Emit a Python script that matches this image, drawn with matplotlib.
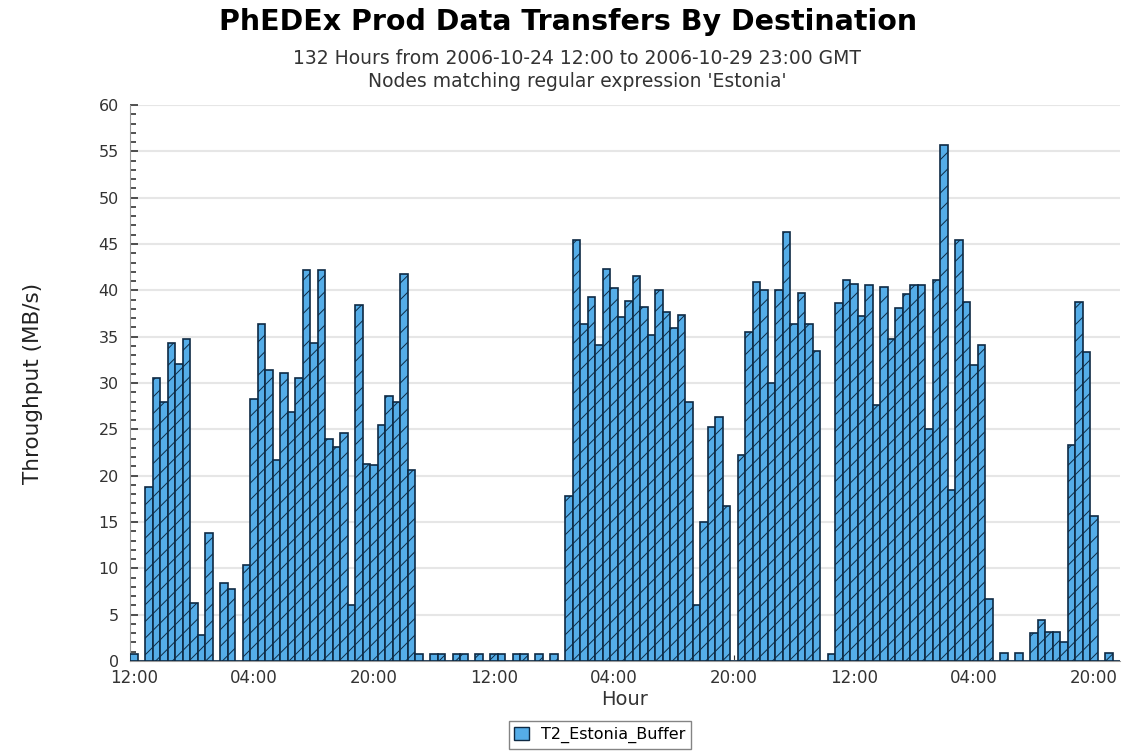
import numpy as np
import matplotlib.pyplot as plt
from matplotlib.patches import Patch

# hourly throughput (MB/s), hour 0 = 2006-10-24 12:00 GMT, 132 hours
throughput = [
    0.8, 0.0, 18.8, 30.5, 28.0, 34.3, 32.1, 34.8, 6.3, 2.8,
    13.8, 0.0, 8.4, 7.8, 0.0, 10.4, 28.3, 36.4, 31.4, 21.7,
    31.1, 26.9, 30.5, 42.2, 34.3, 42.2, 24.0, 23.1, 24.6, 6.0,
    38.4, 21.3, 21.1, 25.5, 28.6, 28.0, 41.8, 20.6, 0.8, 0.0,
    0.8, 0.8, 0.0, 0.8, 0.8, 0.0, 0.8, 0.0, 0.8, 0.8,
    0.0, 0.8, 0.8, 0.0, 0.8, 0.0, 0.8, 0.0, 17.8, 45.4,
    36.4, 39.3, 34.1, 42.3, 40.2, 37.1, 38.8, 41.5, 38.2, 35.2,
    40.0, 37.7, 35.9, 37.3, 28.0, 6.0, 15.0, 25.3, 26.3, 16.7,
    0.0, 22.2, 35.5, 40.9, 40.0, 30.0, 40.0, 46.3, 36.4, 39.7,
    36.4, 33.5, 0.0, 0.8, 38.6, 41.1, 40.7, 37.2, 40.6, 27.6,
    40.4, 34.8, 38.1, 39.6, 40.6, 40.6, 25.0, 41.1, 55.7, 18.5,
    45.4, 38.7, 31.9, 34.1, 6.7, 0.0, 0.9, 0.0, 0.9, 0.0,
    3.0, 4.4, 3.1, 3.1, 2.0, 23.3, 38.7, 33.3, 15.7, 0.0,
    0.9, 0.0,
]
hours = np.arange(len(throughput))

tick_hours = [0, 16, 32, 48, 64, 80, 96, 112, 128]
tick_labels = ['12:00', '04:00', '20:00', '12:00', '04:00', '20:00',
               '12:00', '04:00', '20:00']

node = 'T2_Estonia_Buffer'
title = 'PhEDEx Prod Data Transfers By Destination'
subtitle = ('132 Hours from 2006-10-24 12:00 to 2006-10-29 23:00 GMT\n'
            "Nodes matching regular expression 'Estonia'")

FILL = '#55ade8'
EDGE = '#0e2a44'

plt.rcParams['hatch.linewidth'] = 0.7

fig = plt.figure(figsize=(11.27, 7.51), dpi=100)
ax = fig.add_axes([130 / 1127, 90 / 751, 990 / 1127, 556 / 751])

ax.bar(hours, throughput, width=1.0, color=FILL, edgecolor=EDGE,
       linewidth=1.2, hatch='//', zorder=3)

ax.set_xlim(-0.5, 131.5)
ax.set_ylim(0, 60)
ax.set_yticks(np.arange(0, 61, 5))
ax.set_yticks(np.arange(0, 61, 1), minor=True)
ax.set_xticks(tick_hours)
ax.set_xticklabels(tick_labels)
ax.grid(axis='y', color='#e6e6e6', linewidth=1.5, zorder=0)

ax.tick_params(axis='y', which='major', direction='in', length=6,
               width=1.2, colors='#333333', labelsize=11.5, pad=8)
ax.tick_params(axis='y', which='minor', direction='in', length=4,
               width=1.2, color='#333333')
ax.tick_params(axis='x', direction='in', length=4, colors='#333333',
               labelsize=12, pad=6)

for side in ['top', 'right']:
    ax.spines[side].set_visible(False)
ax.spines['left'].set_color('#999999')
ax.spines['bottom'].set_color('#999999')

ax.set_xlabel('Hour', fontsize=14, color='#333333', labelpad=2)
ax.set_ylabel('Throughput (MB/s)', fontsize=15.5, color='#222222',
              labelpad=40)

fig.text(0.504, 0.971, title, ha='center', va='center', fontsize=20.5,
         fontweight='bold')
fig.text(0.512, 0.907, subtitle, ha='center', va='center', fontsize=13.5,
         color='#333333', linespacing=1.25)

fig.legend(handles=[Patch(facecolor=FILL, edgecolor=EDGE, label=node)],
           loc='center', bbox_to_anchor=(600 / 1127, 1 - 735 / 751),
           fontsize=11.5, frameon=True, fancybox=False, edgecolor='#666666',
           handlelength=0.9, handleheight=0.9, borderpad=0.35)

fig.savefig('out.png', dpi=100)
